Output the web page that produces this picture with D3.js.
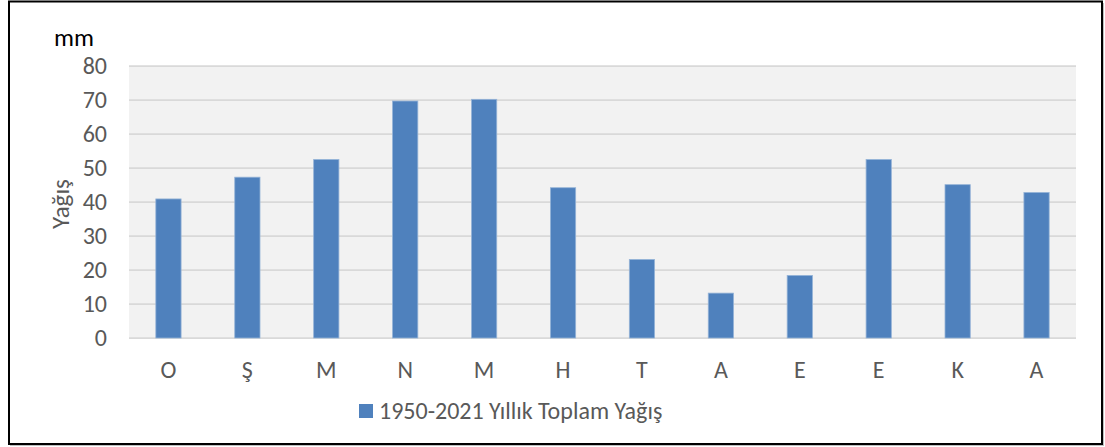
<!DOCTYPE html>
<html>
<head>
<meta charset="utf-8">
<script src="https://cdn.jsdelivr.net/npm/d3@7"></script>
<style>
  body { margin: 0; background: #fff; }
  text { font-family: Calibri, Carlito, "Open Sans", "Noto Sans", sans-serif; }
</style>
</head>
<body>
<div id="chart-area"></div>
<script>
// data
let months = ['O', 'Ş', 'M', 'N', 'M', 'H', 'T', 'A', 'E', 'E', 'K', 'A']
let rainfall = [40.9, 47.3, 52.5, 69.7, 70.2, 44.2, 23.1, 13.2, 18.4, 52.5, 45.1, 42.8]
let yTicks = [0, 10, 20, 30, 40, 50, 60, 70, 80]
let seriesName = '1950-2021 Yıllık Toplam Yağış'

let width = 1105
let height = 447
let margin = { top: 66, right: 29, bottom: 109, left: 129 }
let plotW = width - margin.left - margin.right
let plotH = height - margin.top - margin.bottom

let svg = d3.select('#chart-area').append('svg')
	.attr('width', width)
	.attr('height', height)

// outer frame with a soft shadow right / bottom
svg.append('rect')
	.attr('x', 10).attr('y', 3)
	.attr('width', 1094).attr('height', 443)
	.attr('fill', '#bfbfbf')
svg.append('rect')
	.attr('x', 9).attr('y', 1.5)
	.attr('width', 1093).attr('height', 442.5)
	.attr('fill', '#fff')
	.attr('stroke', '#000')
	.attr('stroke-width', 2)

let g = svg.append('g')
	.attr('transform', 'translate(' + margin.left + ', ' + margin.top + ')')

let x = d3.scaleBand()
	.domain(d3.range(months.length))
	.range([0, plotW])
	.paddingInner(0.68)
	.paddingOuter(0.34)

let y = d3.scaleLinear()
	.domain([0, 80])
	.range([plotH, 0])

g.append('rect')
	.attr('width', plotW)
	.attr('height', plotH)
	.attr('fill', '#f2f2f2')

// gridlines
g.selectAll('.grid')
	.data(yTicks)
	.enter().append('line')
	.attr('class', 'grid')
	.attr('x1', 0).attr('x2', plotW)
	.attr('y1', d => y(d)).attr('y2', d => y(d))
	.attr('stroke', '#d9d9d9')
	.attr('stroke-width', 1.75)

// bars
g.selectAll('.bar')
	.data(rainfall)
	.enter().append('rect')
	.attr('class', 'bar')
	.attr('x', (d, i) => x(i))
	.attr('y', d => y(d))
	.attr('width', x.bandwidth())
	.attr('height', d => plotH - y(d))
	.attr('fill', '#4f81bd')
	.attr('stroke', '#95b3d7')
	.attr('stroke-width', 0.8)

// y axis
let yAxis = g.append('g')
	.call(d3.axisLeft(y).tickValues(yTicks).tickSize(0).tickPadding(22))
yAxis.select('.domain').remove()
yAxis.selectAll('text')
	.attr('fill', '#595959')
	.style('font-size', '24px')

// x axis
let xAxis = g.append('g')
	.attr('transform', 'translate(0, ' + plotH + ')')
	.call(d3.axisBottom(x).tickFormat(i => months[i]).tickSize(0).tickPadding(23))
xAxis.select('.domain').remove()
xAxis.selectAll('text')
	.attr('fill', '#595959')
	.style('font-size', '24px')

// titles
svg.append('text')
	.attr('x', 54).attr('y', 46)
	.attr('fill', '#000')
	.style('font-size', '25px')
	.text('mm')

svg.append('text')
	.attr('transform', 'translate(69, 204) rotate(-90)')
	.attr('text-anchor', 'middle')
	.attr('fill', '#595959')
	.style('font-size', '25px')
	.text('Yağış')

// legend
svg.append('rect')
	.attr('x', 359).attr('y', 404)
	.attr('width', 14).attr('height', 14)
	.attr('fill', '#4f81bd')
svg.append('text')
	.attr('x', 379).attr('y', 419)
	.attr('fill', '#595959')
	.style('font-size', '24px')
	.text(seriesName)
</script>
</body>
</html>
